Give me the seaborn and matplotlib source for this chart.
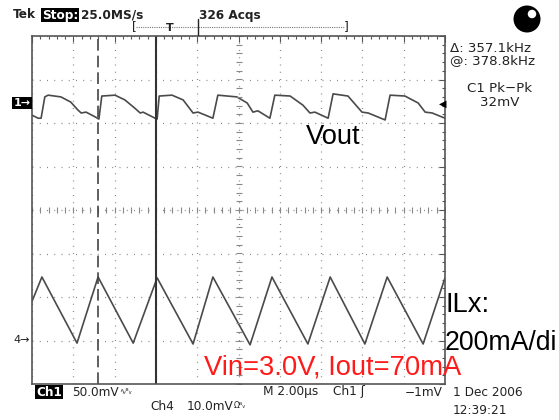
import numpy as np
import pandas as pd
import seaborn as sns
import matplotlib.pyplot as plt
from matplotlib.patches import Ellipse

# ============================================================
# Data (time in us, amplitude in divisions)
# ============================================================

vout_t = [0.00, 0.30, 0.44, 0.62, 0.78, 1.40, 1.88, 2.22, 2.38, 2.62,
          3.06, 3.24, 3.38, 4.02, 4.50, 4.98, 5.24, 5.38, 5.96, 6.06,
          6.16, 6.78, 7.32, 7.80, 8.04, 8.76, 9.00, 9.92, 10.42, 10.70,
          10.94, 11.52, 11.76, 12.50, 13.12, 13.46, 13.70, 14.34, 14.58, 15.30,
          15.98, 16.28, 17.10, 17.34, 18.06, 18.70, 19.04, 19.38, 20.00]
vout_div = [2.18, 2.11, 2.11, 2.60, 2.64, 2.60, 2.48, 2.30, 2.23, 2.25,
            2.14, 2.09, 2.62, 2.64, 2.53, 2.34, 2.23, 2.25, 2.11, 2.09,
            2.62, 2.64, 2.53, 2.23, 2.25, 2.11, 2.64, 2.60, 2.46, 2.25,
            2.28, 2.11, 2.64, 2.62, 2.41, 2.23, 2.25, 2.11, 2.67, 2.62,
            2.25, 2.23, 2.07, 2.64, 2.62, 2.46, 2.25, 2.23, 2.11]

ilx_t = [0.00, 0.48, 2.18, 3.20, 4.90, 6.06, 7.80, 8.76,
         10.56, 11.62, 13.36, 14.44, 16.12, 17.20, 18.94, 20.00]
ilx_div = [-2.10, -1.54, -3.06, -1.54, -3.06, -1.56, -3.08, -1.54,
           -3.10, -1.54, -3.08, -1.54, -3.08, -1.54, -3.08, -1.56]

cursor_dashed = 3.2
cursor_solid = 6.0

vout = pd.DataFrame({'t': vout_t, 'v': vout_div})
ilx = pd.DataFrame({'t': ilx_t, 'v': ilx_div})

# ============================================================
# Figure / axes
# ============================================================

sns.set_theme(style='white')
plt.rcParams['font.family'] = ['DejaVu Sans']

W, H = 559, 420
fig = plt.figure(figsize=(W / 100, H / 100), dpi=100)
fig.patch.set_facecolor('white')
ax = fig.add_axes([32 / W, 1 - 384 / H, 413 / W, 348 / H])


def px(x, y):
    return x / W, 1 - y / H


trace_col = '#4a4a4a'
sns.lineplot(data=vout, x='t', y='v', ax=ax, color=trace_col, lw=1.2, sort=False)
sns.lineplot(data=ilx, x='t', y='v', ax=ax, color=trace_col, lw=1.2, sort=False)

ax.set_xlim(0, 20)
ax.set_ylim(-4, 4)
ax.set_xlabel('')
ax.set_ylabel('')
ax.set_xticks(np.arange(0, 20.1, 2))
ax.set_yticks(np.arange(-4, 4.1, 1))
ax.set_xticks(np.arange(0, 20.01, 0.4), minor=True)
ax.set_yticks(np.arange(-4, 4.01, 0.2), minor=True)
ax.tick_params(which='both', direction='in', top=True, right=True,
               labelbottom=False, labelleft=False, color='#555555', width=0.8)
ax.tick_params(which='major', length=4)
ax.tick_params(which='minor', length=2.5)
ax.grid(True, which='major', color='#888888', lw=0.9, linestyle=(0, (0.8, 5.0)))
for s in ax.spines.values():
    s.set_color('#555555')
    s.set_linewidth(1.2)

# centre cross-hair ticks
ax.plot(np.arange(0, 20.01, 0.4), np.zeros(51), ls='none', marker='|',
        ms=4, color='#888888', mew=0.8)
ax.plot(np.full(41, 10.0), np.arange(-4, 4.01, 0.2), ls='none', marker='_',
        ms=4, color='#888888', mew=0.8)

# cursors
ax.axvline(cursor_dashed, color='#444444', lw=1.2, ls=(0, (7, 3)))
ax.axvline(cursor_solid, color='#333333', lw=1.5)

# ============================================================
# Scope readouts
# ============================================================

scope = dict(family='DejaVu Sans', fontsize=8.7, color='#222222')
side = dict(family='DejaVu Sans', fontsize=9.6, color='#222222')

fig.text(*px(13, 15), 'Tek', fontweight='bold', va='center', **scope)
fig.text(*px(42, 15), 'Stop:', fontweight='bold', va='center', color='white',
         family='DejaVu Sans', fontsize=8.7,
         bbox=dict(boxstyle='square,pad=0.08', fc='black', ec='none'))
fig.text(*px(81, 15), '25.0MS/s', fontweight='bold', va='center', **scope)
fig.text(*px(199, 15), '326 Acqs', fontweight='bold', va='center', **scope)

# record bracket
fig.add_artist(plt.Line2D([136 / W, 344 / W], [1 - 27 / H, 1 - 27 / H],
                          color='#777777', lw=0.8, ls=(0, (1, 1))))
fig.text(*px(134, 27), '[', va='center', ha='center', **scope)
fig.text(*px(346, 27), ']', va='center', ha='center', **scope)
fig.text(*px(170, 28), 'T', va='center', ha='center', fontsize=8,
         color='#222222', fontweight='bold')
fig.add_artist(plt.Line2D([198 / W, 198 / W], [1 - 19 / H, 1 - 35 / H],
                          color='#222222', lw=1.0))

# acquisition icon
fig.add_artist(Ellipse(px(527, 19), 27 / W, 27 / H, transform=fig.transFigure,
                       fc='black', ec='none'))
fig.add_artist(Ellipse(px(532, 14), 8.5 / W, 8.5 / H, transform=fig.transFigure,
                       fc='white', ec='none'))

fig.text(*px(450, 48), '\u0394: 357.1kHz', va='center', **side)
fig.text(*px(450, 61), '@: 378.8kHz', va='center', **side)
fig.text(*px(500, 88), 'C1 Pk\u2212Pk', va='center', ha='center', **side)
fig.text(*px(500, 102), '32mV', va='center', ha='center', **side)

# channel markers
fig.text(*px(22, 103), '1\u2192', va='center', ha='center', color='white',
         fontsize=8, fontweight='bold',
         bbox=dict(boxstyle='square,pad=0.1', fc='black', ec='none'))
fig.text(*px(22, 340), '4\u2192', va='center', ha='center', color='#222222',
         fontsize=8)
fig.text(*px(443, 104), '\u25c0', va='center', ha='center', color='black',
         fontsize=7)

# bottom readouts
fig.text(*px(36, 392), 'Ch1', fontweight='bold', va='center', color='white',
         family='DejaVu Sans', fontsize=8.7,
         bbox=dict(boxstyle='square,pad=0.08', fc='black', ec='none'))
fig.text(*px(72, 392), '50.0mV', va='center', **scope)
fig.text(*px(119, 392), '\u223f\u1d2e\u1d65', va='center', fontsize=5.5,
         color='#222222')
fig.text(*px(150, 406), 'Ch4', va='center', **scope)
fig.text(*px(187, 406), '10.0mV', va='center', **scope)
fig.text(*px(234, 406), '\u03a9\u1d2e\u1d65', va='center', fontsize=5.5,
         color='#222222')
fig.text(*px(263, 392), 'M 2.00\u00b5s', va='center', **scope)
fig.text(*px(333, 392), 'Ch1 \u0283', va='center', **scope)
fig.text(*px(405, 392), '\u22121mV', va='center', **scope)
fig.text(*px(453, 393), '1 Dec 2006', va='center', **scope)
fig.text(*px(453, 411), '12:39:21', va='center', **scope)

# ============================================================
# Annotations
# ============================================================

note = dict(family='Liberation Sans', fontsize=19.7)
fig.text(*px(306, 137), 'Vout', va='center', color='black', **note)
fig.text(*px(446, 305), 'ILx:', va='center', color='black', **note)
fig.text(*px(445, 343), '200mA/di', va='center', color='black',
         family='Liberation Sans', fontsize=19.2)
fig.text(*px(204, 367), 'Vin=3.0V, Iout=70mA', va='center', color='#ff1a1a',
         **note)

fig.savefig('out.png', dpi=100, facecolor='white')
